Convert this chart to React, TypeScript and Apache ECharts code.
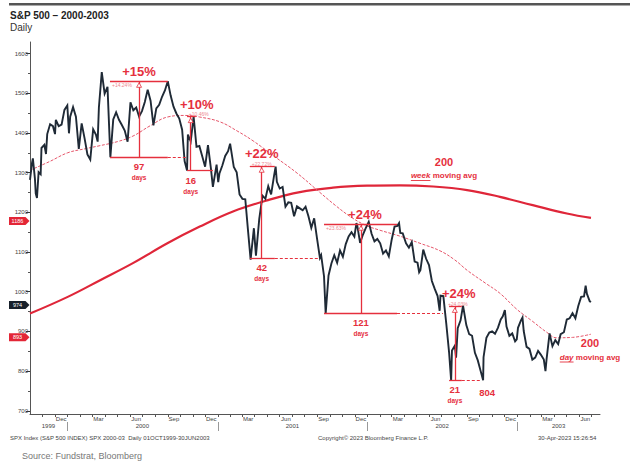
import React, { useEffect, useRef } from "react";
import * as echarts from "echarts";

// S&P 500 (swing highs / lows and weekly levels)
const spxDaily: [string, number][] = [
  ["1999-10-01", 1282], ["1999-10-06", 1325], ["1999-10-08", 1336], ["1999-10-13", 1285], ["1999-10-15", 1247], ["1999-10-18", 1236], ["1999-10-22", 1301], ["1999-10-27", 1296], ["1999-10-29", 1362], ["1999-11-05", 1370], ["1999-11-09", 1347], ["1999-11-12", 1397], ["1999-11-19", 1422], ["1999-11-26", 1417], ["1999-12-01", 1397], ["1999-12-03", 1433], ["1999-12-10", 1417], ["1999-12-17", 1421], ["1999-12-24", 1458], ["1999-12-31", 1469],
  ["2000-01-04", 1399], ["2000-01-07", 1441], ["2000-01-14", 1465], ["2000-01-21", 1441], ["2000-01-28", 1360], ["2000-02-04", 1424], ["2000-02-11", 1387], ["2000-02-18", 1346], ["2000-02-25", 1333], ["2000-03-03", 1409], ["2000-03-10", 1395], ["2000-03-14", 1378], ["2000-03-17", 1464], ["2000-03-24", 1553], ["2000-03-31", 1499], ["2000-04-07", 1516], ["2000-04-14", 1339], ["2000-04-21", 1434], ["2000-04-28", 1452], ["2000-05-05", 1433], ["2000-05-12", 1420], ["2000-05-19", 1406], ["2000-05-26", 1378], ["2000-06-02", 1477], ["2000-06-09", 1457], ["2000-06-16", 1464], ["2000-06-23", 1441], ["2000-06-30", 1455], ["2000-07-07", 1478], ["2000-07-14", 1509], ["2000-07-21", 1481], ["2000-07-28", 1419], ["2000-08-04", 1462], ["2000-08-11", 1471], ["2000-08-18", 1491], ["2000-08-25", 1507], ["2000-09-01", 1530], ["2000-09-08", 1494], ["2000-09-15", 1466], ["2000-09-22", 1449], ["2000-09-29", 1436], ["2000-10-06", 1408], ["2000-10-12", 1329], ["2000-10-18", 1305], ["2000-10-20", 1396], ["2000-10-27", 1379], ["2000-11-03", 1441], ["2000-11-10", 1365], ["2000-11-17", 1367], ["2000-11-24", 1341], ["2000-12-01", 1315], ["2000-12-08", 1369], ["2000-12-15", 1312], ["2000-12-20", 1264], ["2000-12-29", 1320],
  ["2001-01-02", 1276], ["2001-01-05", 1298], ["2001-01-12", 1318], ["2001-01-19", 1342], ["2001-01-26", 1354], ["2001-01-31", 1373], ["2001-02-09", 1314], ["2001-02-16", 1301], ["2001-02-23", 1245], ["2001-03-02", 1234], ["2001-03-09", 1233], ["2001-03-16", 1150], ["2001-03-22", 1081], ["2001-03-30", 1160], ["2001-04-04", 1091], ["2001-04-12", 1183], ["2001-04-20", 1242], ["2001-04-27", 1234], ["2001-05-04", 1266], ["2001-05-11", 1245], ["2001-05-18", 1291], ["2001-05-22", 1315], ["2001-05-25", 1277], ["2001-06-01", 1260], ["2001-06-08", 1264], ["2001-06-15", 1214], ["2001-06-22", 1225], ["2001-06-29", 1224], ["2001-07-06", 1190], ["2001-07-13", 1215], ["2001-07-20", 1210], ["2001-07-27", 1205], ["2001-08-03", 1214], ["2001-08-10", 1190], ["2001-08-17", 1161], ["2001-08-24", 1185], ["2001-08-31", 1134], ["2001-09-07", 1085], ["2001-09-10", 1092], ["2001-09-17", 1039], ["2001-09-21", 945], ["2001-09-28", 1041], ["2001-10-05", 1071], ["2001-10-12", 1092], ["2001-10-19", 1073], ["2001-10-26", 1104], ["2001-11-02", 1088], ["2001-11-09", 1120], ["2001-11-16", 1139], ["2001-11-23", 1150], ["2001-11-30", 1139], ["2001-12-05", 1173], ["2001-12-07", 1167], ["2001-12-14", 1123], ["2001-12-21", 1144], ["2001-12-28", 1161],
  ["2002-01-04", 1176], ["2002-01-11", 1146], ["2002-01-18", 1127], ["2002-01-25", 1133], ["2002-02-01", 1122], ["2002-02-08", 1096], ["2002-02-15", 1104], ["2002-02-22", 1089], ["2002-03-01", 1131], ["2002-03-08", 1164], ["2002-03-15", 1166], ["2002-03-19", 1173], ["2002-03-22", 1148], ["2002-03-28", 1147], ["2002-04-05", 1122], ["2002-04-12", 1111], ["2002-04-19", 1125], ["2002-04-26", 1076], ["2002-05-03", 1073], ["2002-05-07", 1049], ["2002-05-10", 1054], ["2002-05-17", 1106], ["2002-05-24", 1083], ["2002-05-31", 1067], ["2002-06-07", 1027], ["2002-06-14", 1007], ["2002-06-21", 989], ["2002-06-26", 952], ["2002-06-28", 990], ["2002-07-05", 989], ["2002-07-12", 921], ["2002-07-19", 847], ["2002-07-24", 776], ["2002-07-26", 852], ["2002-08-02", 864], ["2002-08-05", 834], ["2002-08-09", 908], ["2002-08-16", 928], ["2002-08-22", 965], ["2002-08-30", 916], ["2002-09-06", 893], ["2002-09-13", 889], ["2002-09-20", 846], ["2002-09-27", 827], ["2002-10-04", 800], ["2002-10-10", 777], ["2002-10-11", 835], ["2002-10-18", 884], ["2002-10-25", 897], ["2002-11-01", 900], ["2002-11-08", 894], ["2002-11-15", 909], ["2002-11-22", 930], ["2002-11-27", 938], ["2002-12-02", 954], ["2002-12-06", 912], ["2002-12-13", 889], ["2002-12-20", 895], ["2002-12-27", 875], ["2002-12-31", 880],
  ["2003-01-03", 909], ["2003-01-10", 927], ["2003-01-14", 935], ["2003-01-17", 901], ["2003-01-24", 861], ["2003-01-31", 856], ["2003-02-07", 829], ["2003-02-14", 834], ["2003-02-21", 851], ["2003-02-28", 841], ["2003-03-07", 829], ["2003-03-11", 800], ["2003-03-14", 833], ["2003-03-21", 895], ["2003-03-28", 863], ["2003-04-04", 878], ["2003-04-11", 868], ["2003-04-17", 893], ["2003-04-25", 898], ["2003-05-02", 930], ["2003-05-09", 933], ["2003-05-16", 946], ["2003-05-23", 933], ["2003-05-30", 964], ["2003-06-06", 987], ["2003-06-13", 988], ["2003-06-17", 1015], ["2003-06-20", 995], ["2003-06-27", 976], ["2003-06-30", 974],
];

// 200-day moving average
const ma200Day: [string, number][] = [
  ["1999-10-01", 1306], ["1999-11-18", 1328], ["2000-01-01", 1350], ["2000-02-12", 1360], ["2000-03-20", 1368], ["2000-05-01", 1378], ["2000-06-08", 1392], ["2000-07-20", 1418], ["2000-08-31", 1440], ["2000-10-13", 1444], ["2000-11-18", 1440], ["2001-01-06", 1428], ["2001-02-17", 1405], ["2001-03-28", 1380], ["2001-05-20", 1340], ["2001-07-13", 1299], ["2001-09-07", 1250], ["2001-10-14", 1218], ["2001-11-19", 1190], ["2001-12-26", 1168], ["2002-01-31", 1155], ["2002-03-21", 1140], ["2002-05-09", 1122], ["2002-06-27", 1103], ["2002-08-02", 1080], ["2002-09-01", 1054], ["2002-10-15", 1022], ["2002-11-20", 996], ["2003-01-01", 955], ["2003-02-08", 925], ["2003-03-14", 898], ["2003-04-07", 884], ["2003-05-16", 885], ["2003-06-30", 893],
];

// 200-week moving average
const ma200Week: [string, number][] = [
  ["1999-10-01", 945], ["2000-01-01", 987], ["2000-03-20", 1029], ["2000-06-08", 1072], ["2000-08-31", 1122], ["2000-11-18", 1164], ["2001-02-07", 1202], ["2001-05-01", 1230], ["2001-07-20", 1251], ["2001-10-09", 1262], ["2001-12-31", 1267], ["2002-03-21", 1268], ["2002-06-10", 1265], ["2002-09-01", 1256], ["2002-11-20", 1239], ["2003-02-08", 1218], ["2003-05-02", 1197], ["2003-06-30", 1186],
];

const yTickValues = [700, 800, 900, 1000, 1100, 1200, 1300, 1400, 1500, 1600];
const yMinorValues = [750, 850, 950, 1050, 1150, 1250, 1350, 1450, 1550];
const monthNames = ["Jan", "Feb", "Mar", "Apr", "May", "Jun", "Jul", "Aug", "Sep", "Oct", "Nov", "Dec"];
const labelMonths = [11, 2, 5, 8];
const yearLabelDates = ["1999-11-15", "2000-07-01", "2001-07-02", "2002-07-02", "2003-04-12"];
const yearStartDates = ["2000-01-01", "2001-01-01", "2002-01-01", "2003-01-01"];

// Rally annotations: low, rally top, day count
const rallies = [
  { left: "2000-04-13", mid: "2000-06-23", right: "2000-09-01", topEnd: "2000-09-01", dashEnd: "2000-10-18", low: 1339, high: 1530, big: "+15%", small: "+14.24%", days: "97" },
  { left: "2000-10-18", mid: "2000-10-27", right: "2000-12-20", topEnd: "2000-11-08", dashEnd: "", low: 1305, high: 1441, big: "+10%", small: "+10.46%", days: "16" },
  { left: "2001-03-20", mid: "2001-04-18", right: "2001-05-20", topEnd: "2001-05-20", dashEnd: "2001-09-07", low: 1084, high: 1316, big: "+22%", small: "+22.72%", days: "42" },
  { left: "2001-09-17", mid: "2001-12-16", right: "2002-03-14", topEnd: "2002-03-14", dashEnd: "2002-07-04", low: 946, high: 1170, big: "+24%", small: "+23.63%", days: "121" },
  { left: "2002-07-19", mid: "2002-08-02", right: "2002-08-19", topEnd: "2002-08-19", dashEnd: "2002-10-02", low: 777, high: 963, big: "+24%", small: "+24.03%", days: "21" },
];
const lowLabel = { date: "2002-10-10", value: 777, text: "804" };

const lastValueTags = [
  { value: 1186, color: "#e32636" },
  { value: 974, color: "#17202b" },
  { value: 893, color: "#e32636" },
];

const FONT = '"Liberation Sans", Arial, Helvetica, sans-serif';
const RED = "#e5303d";

const ts = (d: string) => {
  const [y, m, dd] = d.split("-").map(Number);
  return Date.UTC(y, m - 1, dd);
};

const X_MIN = ts("1999-10-01");
const X_MAX = ts("2003-07-22");

function buildMonthTicks() {
  const starts: number[] = [];
  const mids: number[] = [];
  for (let y = 1999; y <= 2003; y++) {
    for (let m = 0; m < 12; m++) {
      const s = Date.UTC(y, m, 1);
      if (s > X_MIN && s < X_MAX) starts.push(s);
      const mid = Date.UTC(y, m, 16);
      if (mid > X_MIN && mid < X_MAX && labelMonths.includes(m)) mids.push(mid);
    }
  }
  return { starts, mids };
}

function measure(text: string, font: string) {
  const c = document.createElement("canvas").getContext("2d");
  if (!c) return text.length * 4.5;
  c.font = font;
  return c.measureText(text).width;
}

export default function App() {
  const ref = useRef<HTMLDivElement>(null);

  useEffect(() => {
    if (!ref.current) return;
    const chart = echarts.init(ref.current, null, { renderer: "svg" });
    const { starts, mids } = buildMonthTicks();

    const markLines: any[] = [];
    const seg = (d1: string, v1: number, d2: string, v2: number, dashed: boolean) => {
      markLines.push([
        { coord: [ts(d1), v1], lineStyle: { color: RED, width: dashed ? 1 : 1.3, type: dashed ? [3, 2] : "solid" } },
        { coord: [ts(d2), v2] },
      ]);
    };
    rallies.forEach((r) => {
      seg(r.left, r.high, r.topEnd, r.high, false);
      seg(r.mid, r.high, r.mid, r.low, false);
      seg(r.left, r.low, r.right, r.low, false);
      if (r.dashEnd) seg(r.right, r.low, r.dashEnd, r.low, true);
    });

    chart.setOption({
      animation: false,
      backgroundColor: "#ffffff",
      grid: { left: 30, right: 30, top: 42, bottom: 51, containLabel: false, outerBoundsMode: "none" },
      xAxis: [
        {
          type: "value", min: X_MIN, max: X_MAX, position: "bottom",
          axisLine: { show: true, onZero: false, lineStyle: { color: "#555", width: 1 } },
          axisTick: { show: true, customValues: starts, length: 3, lineStyle: { color: "#555" } },
          axisLabel: {
            show: true, customValues: mids, margin: 2, fontSize: 6, color: "#444", fontFamily: FONT,
            formatter: (v: number) => monthNames[new Date(v).getUTCMonth()],
          },
          splitLine: { show: false },
        },
        {
          type: "value", min: X_MIN, max: X_MAX, position: "bottom", offset: 8,
          axisLine: { show: false },
          axisTick: { show: true, customValues: yearStartDates.map(ts), length: 9, lineStyle: { color: "#999" } },
          axisLabel: {
            show: true, customValues: yearLabelDates.map(ts), margin: 1, fontSize: 6, color: "#444", fontFamily: FONT,
            formatter: (v: number) => String(new Date(v).getUTCFullYear()),
          },
          splitLine: { show: false },
        },
      ],
      yAxis: [
        {
          type: "value", min: 692, max: 1629, position: "left",
          axisLine: { show: true, onZero: false, lineStyle: { color: "#555", width: 1 } },
          axisTick: { show: true, customValues: yTickValues, length: 4, lineStyle: { color: "#333" } },
          axisLabel: {
            show: true, customValues: yTickValues, margin: 2, fontSize: 6, color: "#444", fontFamily: FONT,
            formatter: (v: number) => String(v),
          },
          splitLine: { show: false },
        },
        {
          type: "value", min: 692, max: 1629, position: "left", offset: 0,
          axisLine: { show: false },
          axisTick: { show: true, customValues: yMinorValues, length: 2, lineStyle: { color: "#555" } },
          axisLabel: { show: false },
          splitLine: { show: false },
        },
      ],
      series: [
        {
          name: "200 week moving avg", type: "line", xAxisIndex: 0, yAxisIndex: 0, smooth: 0.4, showSymbol: false, silent: true, z: 2,
          data: ma200Week.map(([d, v]) => [ts(d), v]),
          lineStyle: { color: "#df2639", width: 2.2 },
        },
        {
          name: "200 day moving avg", type: "line", xAxisIndex: 0, yAxisIndex: 0, smooth: 0.4, showSymbol: false, silent: true, z: 2,
          data: ma200Day.map(([d, v]) => [ts(d), v]),
          lineStyle: { color: "#e5566a", width: 1, type: [3, 1.5] },
        },
        {
          name: "SPX", type: "line", xAxisIndex: 0, yAxisIndex: 0, showSymbol: false, silent: true, z: 4,
          data: spxDaily.map(([d, v]) => [ts(d), v]),
          lineStyle: { color: "#1f2a36", width: 1.9, join: "miter" },
          markLine: { silent: true, symbol: ["none", "none"], label: { show: false }, data: markLines, z: 5 },
        },
      ],
    });

    const P = (d: string, v: number) => chart.convertToPixel({ gridIndex: 0 }, [ts(d), v]) as number[];

    const txt = (x: number, y: number, text: string, o: any = {}) => ({
      type: "text", x, y, silent: true, z: 20,
      style: {
        text, fill: o.fill || RED, fontSize: o.fontSize || 8, fontWeight: o.fontWeight || "normal",
        fontStyle: o.fontStyle || "normal", fontFamily: FONT,
        align: o.align || "center", verticalAlign: "middle", textAlign: o.align || "center", textVerticalAlign: "middle",
      },
    });

    const els: any[] = [];
    // header bar & titles
    els.push({ type: "rect", shape: { x: 9, y: 3, width: 621, height: 2.5 }, style: { fill: "#555" }, silent: true });
    els.push(txt(10, 15, "S&P 500 – 2000-2003", { fill: "#222", fontSize: 10, fontWeight: "bold", align: "left" }));
    els.push(txt(10, 27, "Daily", { fill: "#333", fontSize: 10, align: "left" }));
    // footer
    els.push(txt(10, 438, "SPX Index (S&P 500 INDEX) SPX 2000-03  Daily 01OCT1999-30JUN2003", { fill: "#444", fontSize: 6, align: "left" }));
    els.push(txt(318, 438, "Copyright© 2023 Bloomberg Finance L.P.", { fill: "#444", fontSize: 6, align: "left" }));
    els.push(txt(538, 438, "30-Apr-2023 15:26:54", { fill: "#444", fontSize: 6, align: "left" }));
    els.push(txt(22, 456, "Source: Fundstrat, Bloomberg", { fill: "#777", fontSize: 9, align: "left" }));

    // rally annotations
    const smallPos = [
      { dx: 0, dy: 3.5, align: "left", fromLeft: true },
      { dx: 8, dy: -2.5, align: "center", fromLeft: false },
      { dx: 0, dy: -2.5, align: "center", fromLeft: false },
      { dx: 0, dy: 4, align: "left", fromLeft: true },
      { dx: 3, dy: -2.5, align: "center", fromLeft: false },
    ];
    const bigDx = [0, 6, 0, 4, 4];
    rallies.forEach((r, i) => {
      const [vx, topY] = P(r.mid, r.high);
      const [, botY] = P(r.mid, r.low);
      const [lx] = P(r.left, r.high);
      const sp = smallPos[i];
      els.push(txt(vx + bigDx[i], topY - (sp.fromLeft ? 10 : 12.5), r.big, { fontSize: 13, fontWeight: "bold" }));
      els.push(txt(sp.fromLeft ? lx + 2 : vx + sp.dx, topY + sp.dy, r.small, { fontSize: 5, fill: "#ee8890", align: sp.align }));
      els.push({
        type: "polygon", silent: true, z: 21,
        shape: { points: [[vx, topY + 1.5], [vx - 2.5, topY + 6], [vx + 2.5, topY + 6]] },
        style: { fill: "#fff", stroke: RED, lineWidth: 0.8 },
      });
      els.push(txt(vx, botY + 9.5, r.days, { fontSize: 9.5, fontWeight: "bold" }));
      els.push(txt(vx, botY + 20.5, "days", { fontSize: 6.5, fontWeight: "bold" }));
    });
    const [lowX, lowY] = P(lowLabel.date, lowLabel.value);
    els.push(txt(lowX + 4, lowY + 12.5, lowLabel.text, { fontSize: 9.5, fontWeight: "bold" }));

    // moving average labels
    const maLabel = (cx: number, y200: number, yTxt: number, word: string) => {
      els.push(txt(cx, y200, "200", { fontSize: 11, fontWeight: "bold" }));
      const fW = `italic bold 8px ${FONT}`;
      const fR = `bold 8px ${FONT}`;
      const w1 = measure(word, fW);
      const w2 = measure(" moving avg", fR);
      const left = cx - (w1 + w2) / 2;
      els.push(txt(left, yTxt, word, { fontSize: 8, fontWeight: "bold", fontStyle: "italic", align: "left" }));
      els.push(txt(left + w1, yTxt, " moving avg", { fontSize: 8, fontWeight: "bold", align: "left" }));
      els.push({ type: "line", silent: true, shape: { x1: left, y1: yTxt + 5, x2: left + w1, y2: yTxt + 5 }, style: { stroke: RED, lineWidth: 0.9 } });
    };
    maLabel(444, 161.5, 175.5, "week");
    maLabel(590, 342.5, 357, "day");

    // last value tags on the price axis
    lastValueTags.forEach((t) => {
      const [, y0] = P("1999-10-01", t.value);
      const y = y0 + 3;
      els.push({
        type: "polygon", silent: true, z: 22,
        shape: { points: [[9, y - 4], [25.5, y - 4], [29.5, y], [25.5, y + 4], [9, y + 4]] },
        style: { fill: t.color },
      });
      els.push({ ...txt(17.5, y, String(t.value), { fill: "#fff", fontSize: 5.5 }), z: 23 });
    });

    chart.setOption({ graphic: { elements: els } });

    return () => chart.dispose();
  }, []);

  return <div ref={ref} style={{ position: "fixed", left: 0, top: 0, width: 630, height: 465, background: "#fff" }} />;
}
